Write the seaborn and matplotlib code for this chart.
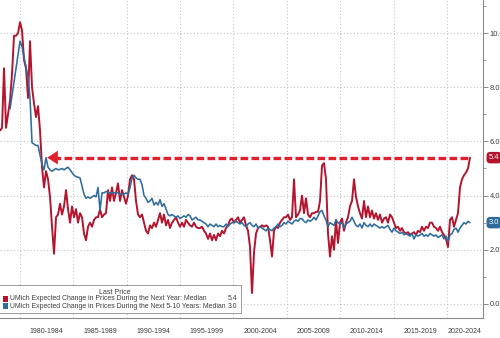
import numpy as np
import pandas as pd
import matplotlib
matplotlib.use("Agg")
import matplotlib.pyplot as plt
import matplotlib.transforms as mtransforms
from matplotlib.patches import Rectangle
import seaborn as sns

# ---------------- data ----------------
start_date = "1978-02-15"
end_date = "2022-03-01"

one_year = [
    6.4, 6.5, 8.7, 6.5, 7.0, 7.5, 8.5, 9.9, 9.9, 10.0,
    10.4, 10.1, 9.0, 8.7, 7.6, 9.7, 8.0, 7.4, 6.9, 7.3,
    6.4, 5.05, 4.3, 4.9, 4.6, 3.95, 2.85, 1.85, 3.2, 3.3,
    3.7, 3.3, 3.6, 4.2, 3.5, 3.0, 3.6, 3.2, 3.5, 3.0,
    3.35, 3.2, 2.6, 2.35, 2.85, 3.0, 2.85, 3.1, 3.2, 3.2,
    3.5, 3.2, 3.3, 3.35, 4.2, 3.8, 4.3, 3.8, 4.1, 4.45,
    3.8, 4.2, 3.95, 3.7, 4.0, 4.6, 4.75, 4.6, 3.8, 3.3,
    3.2, 3.3, 3.0, 2.7, 2.6, 2.9, 2.8, 3.0, 2.85, 3.1,
    3.35, 3.0, 3.3, 2.9, 3.1, 2.8, 3.0, 3.1, 3.2, 3.0,
    2.85, 3.0, 2.85, 3.1, 3.0, 2.9, 2.85, 3.0, 2.85, 2.8,
    2.8, 2.85, 2.7, 2.6, 2.4, 2.6, 2.35, 2.55, 2.35, 2.6,
    2.5, 2.7, 2.6, 2.8, 2.9, 3.1, 3.15, 3.0, 3.1, 3.2,
    3.0, 3.1, 3.2, 2.9, 2.7, 2.1, 0.4, 1.9, 2.6, 2.8,
    2.85, 2.9, 2.85, 2.9, 2.85, 2.35, 1.75, 2.7, 2.85, 2.8,
    3.0, 3.1, 3.2, 3.2, 3.3, 3.1, 3.2, 4.6, 3.2, 3.3,
    3.45, 4.0, 3.35, 3.9, 3.3, 3.2, 3.35, 3.35, 3.4, 3.4,
    3.8, 5.1, 5.2, 4.6, 2.6, 1.75, 2.5, 2.0, 3.1, 2.25,
    3.0, 3.15, 2.7, 3.0, 3.2, 3.6, 3.8, 4.6, 3.95, 3.6,
    3.35, 3.15, 3.8, 3.2, 3.6, 3.2, 3.45, 3.15, 3.35, 3.1,
    3.3, 3.0, 3.15, 3.2, 3.0, 3.3, 3.2, 3.0, 2.8, 2.85,
    2.7, 2.8, 2.65, 2.6, 2.65, 2.55, 2.6, 2.65, 2.55, 2.7,
    2.65, 2.85, 2.7, 2.85, 2.8, 3.0, 3.0, 2.85, 2.8, 2.7,
    2.85, 2.65, 2.55, 2.4, 2.1, 3.1, 3.2, 2.85, 3.1, 3.35,
    4.3, 4.6, 4.75, 4.85, 5.0, 5.4,
]

five_ten_year = [
    np.nan, np.nan, np.nan, np.nan, np.nan, 7.2, 7.7, 8.2, 8.7, 9.2,
    9.7, 9.5, 9.1, 8.75, 8.35, 7.6, 5.95, 5.9, 5.85, 5.85,
    5.5, 5.15, 4.95, 5.4, 5.05, 4.95, 4.9, 4.95, 5.0, 4.95,
    4.97, 5.0, 4.95, 5.0, 5.05, 4.95, 4.85, 4.75, 4.7, 4.68,
    4.65, 4.35, 4.05, 3.9, 3.95, 3.9, 3.95, 4.0, 3.95, 4.3,
    3.45, 4.1, 4.1, 4.15, 4.12, 4.1, 4.1, 4.1, 4.1, 4.1,
    4.05, 4.05, 4.05, 4.1, 4.05, 4.3, 4.65, 4.75, 4.65, 4.6,
    4.6, 4.4, 4.0, 3.9, 3.75, 3.8, 3.9, 3.65, 3.75, 3.65,
    3.85, 3.6, 3.7, 3.5, 3.3, 3.25, 3.3, 3.25, 3.2, 3.25,
    3.15, 3.2, 3.25, 3.2, 3.3, 3.25, 3.1, 3.15, 3.2, 3.1,
    3.1, 3.05, 3.0, 2.95, 2.85, 2.95, 2.9, 2.85, 2.95, 2.85,
    2.9, 2.85, 2.85, 2.95, 2.85, 2.95, 3.0, 3.0, 3.05, 3.0,
    2.95, 3.0, 2.9, 2.85, 2.95, 3.0, 2.9, 2.85, 2.95, 2.8,
    2.85, 2.8, 2.75, 2.7, 2.8, 2.75, 2.7, 2.8, 2.85, 2.95,
    2.85, 2.9, 3.0, 2.95, 3.05, 3.0, 2.95, 3.05, 3.1, 3.05,
    3.15, 3.15, 3.05, 3.0, 3.1, 3.05, 3.1, 3.2, 3.1, 3.25,
    3.4, 3.45, 3.25, 3.1, 2.85, 3.0, 2.95, 2.9, 3.1, 3.0,
    2.95, 3.0, 2.8, 2.95, 3.0, 3.05, 3.2, 3.05, 2.9, 2.85,
    2.95, 2.8, 3.0, 2.9, 2.85, 2.95, 2.85, 2.95, 2.9, 2.85,
    2.8, 2.85, 2.8, 2.85, 2.9, 2.75, 2.65, 2.8, 2.7, 2.65,
    2.6, 2.65, 2.55, 2.6, 2.55, 2.5, 2.6, 2.4, 2.55, 2.5,
    2.55, 2.6, 2.5, 2.55, 2.5, 2.6, 2.55, 2.5, 2.55, 2.45,
    2.5, 2.55, 2.4, 2.5, 2.3, 2.55, 2.6, 2.75, 2.8, 2.65,
    2.8, 2.9, 3.0, 2.95, 3.05, 3.0,
]

series_names = [
    "UMich Expected Change in Prices During the Next Year: Median",
    "UMich Expected Change in Prices During the Next 5-10 Years: Median",
]
period_labels = ["1980-1984", "1985-1989", "1990-1994", "1995-1999", "2000-2004",
                 "2005-2009", "2010-2014", "2015-2019", "2020-2024"]
period_starts = [1980, 1985, 1990, 1995, 2000, 2005, 2010, 2015, 2020]
y_ticks = [0, 2, 4, 6, 8, 10]

RED = "#B3152F"
BLUE = "#2F6C9C"
ARROW_RED = "#E0202C"
TXT = "#3c3c3c"
GRID = "#c4c4c4"

dates = pd.date_range(start_date, end_date, periods=len(one_year))
df = pd.DataFrame({"date": dates, "one": one_year, "five": five_ten_year})

# ---------------- figure ----------------
sns.set_style("white")
plt.rcParams["font.family"] = ["Liberation Sans", "DejaVu Sans"]

W, H = 500, 338
fig = plt.figure(figsize=(W / 100, H / 100), dpi=100)
ax = fig.add_axes([0, 20 / H, 483 / W, 318 / H])

sns.lineplot(data=df, x="date", y="one", ax=ax, color=RED, linewidth=1.4, zorder=3)
sns.lineplot(data=df, x="date", y="five", ax=ax, color=BLUE, linewidth=1.15, zorder=4)

xmin = pd.Timestamp("1978-02-14")
xmax = pd.Timestamp("2023-05-20")
ax.set_xlim(xmin, xmax)
ax.set_ylim(-0.52, 11.22)
ax.set_xlabel("")
ax.set_ylabel("")

# spines
for s in ["left", "top"]:
    ax.spines[s].set_visible(False)
for s in ["right", "bottom"]:
    ax.spines[s].set_color("#8a8a8a")
    ax.spines[s].set_linewidth(0.8)

# y axis on right
ax.yaxis.tick_right()
ax.set_yticks(y_ticks)
ax.set_yticklabels([f"{v:.1f}" for v in y_ticks])
ax.set_yticks([1, 3, 5, 7, 9, 11], minor=True)
ax.tick_params(axis="y", which="major", length=3.5, width=0.7, color="#8a8a8a",
               labelsize=5.4, labelcolor=TXT, pad=1.2)
ax.tick_params(axis="y", which="minor", length=2, width=0.6, color="#8a8a8a")

# x axis: 5-year separators as major ticks, yearly minor ticks
major_ticks = [pd.Timestamp(f"{y}-01-01") for y in period_starts]
ax.set_xticks(major_ticks)
ax.set_xticklabels([""] * len(major_ticks))
ax.set_xticks([pd.Timestamp(f"{y}-01-01") for y in range(1979, 2024)], minor=True)
ax.tick_params(axis="x", which="major", length=21, width=0.8, color="#8a8a8a", direction="out")
ax.tick_params(axis="x", which="minor", length=2.5, width=0.6, color="#8a8a8a", direction="out")

# grid
ax.grid(True, which="major", axis="both", color=GRID, linestyle=(0, (1, 2)), linewidth=0.8)

# period labels, centred on the visible part of each period
xform = ax.get_xaxis_transform()
for lab, y0 in zip(period_labels, period_starts):
    a = pd.Timestamp(f"{y0}-01-01")
    b = min(pd.Timestamp(f"{y0 + 5}-01-01"), xmax)
    mid = a + (b - a) / 2
    ax.text(mid, -0.042, lab, transform=xform, ha="center", va="center",
            fontsize=5.0, color=TXT, clip_on=False)

# dashed arrow at last 1-year value
last_one = one_year[-1]
last_five = five_ten_year[-1]
arrow_tip = pd.Timestamp("1982-07-20")
ax.plot([pd.Timestamp("1983-02-01"), dates[-1]], [last_one, last_one],
        color=ARROW_RED, linewidth=2.4, linestyle=(0, (2.3, 1.0)),
        solid_capstyle="butt", dash_capstyle="butt", zorder=6)
ax.annotate("", xy=(arrow_tip, last_one), xytext=(pd.Timestamp("1983-04-01"), last_one),
            arrowprops=dict(arrowstyle="-|>,head_length=0.7,head_width=0.45",
                            color=ARROW_RED, lw=0.5, shrinkA=0, shrinkB=0,
                            mutation_scale=10), zorder=7)

# last value tags on the right axis
ytrans = mtransforms.blended_transform_factory(ax.transAxes, ax.transData)
for val, col in [(last_one, RED), (last_five, BLUE)]:
    ax.text(1.012, val, f"{val:.1f}", transform=ytrans, ha="left", va="center",
            fontsize=5.4, color="white", clip_on=False, zorder=10,
            bbox=dict(boxstyle="round,pad=0.3,rounding_size=0.5", fc=col, ec="none"))

# legend box
leg_x1 = 241 / 483
leg_y0 = (318 - 313) / 318
leg_y1 = (318 - 285) / 318
ax.add_patch(Rectangle((-0.01, leg_y0), leg_x1 + 0.01, leg_y1 - leg_y0, transform=ax.transAxes,
                       facecolor="white", edgecolor="#9a9a9a", linewidth=0.7, zorder=20,
                       clip_on=False))
ax.text(115 / 483, (318 - 292) / 318, "Last Price", transform=ax.transAxes, ha="center",
        va="center", fontsize=5.0, color=TXT, zorder=21)
rows_y = [(318 - 299) / 318, (318 - 306) / 318]
for name, val, col, yy in zip(series_names, [last_one, last_five], [RED, BLUE], rows_y):
    ax.add_patch(Rectangle((2.5 / 483, yy - 2.6 / 318), 5 / 483, 5.2 / 318, transform=ax.transAxes,
                           facecolor=col, edgecolor="none", zorder=21, clip_on=False))
    ax.text(10 / 483, yy, name, transform=ax.transAxes, ha="left", va="center",
            fontsize=4.95, color=TXT, zorder=21)
    ax.text(237 / 483, yy, f"{val:.1f}", transform=ax.transAxes, ha="right", va="center",
            fontsize=4.95, color=TXT, zorder=21)

fig.savefig("out.png", dpi=100, facecolor="white")
